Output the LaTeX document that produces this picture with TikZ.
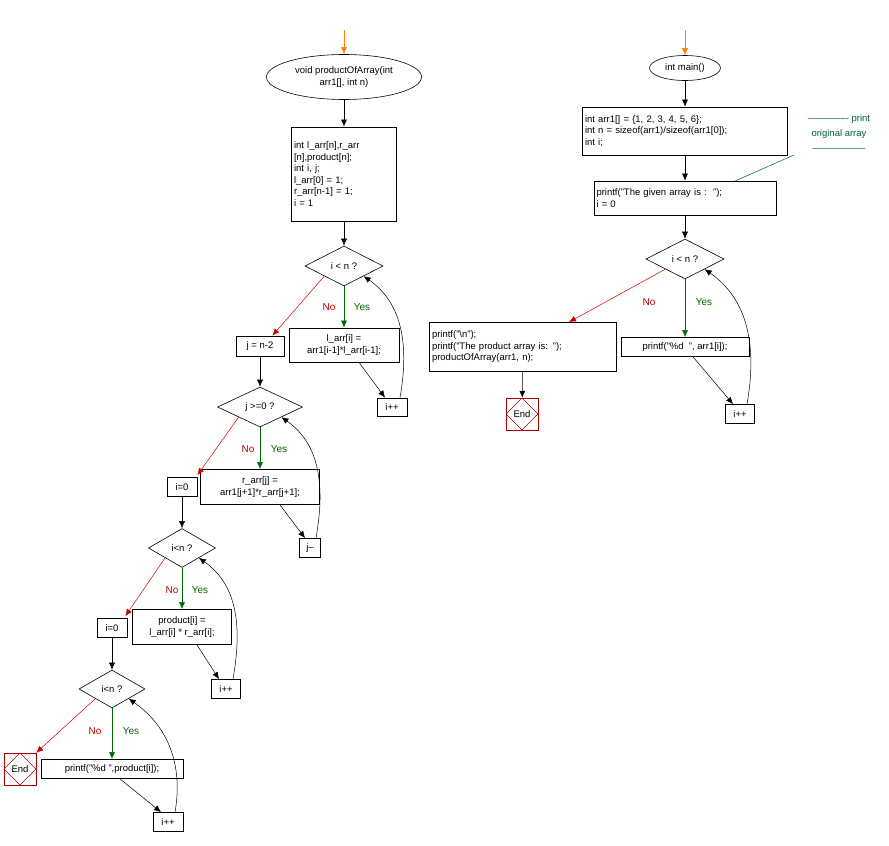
\documentclass[tikz,border=0pt]{standalone}
\usepackage{fontspec}
\setmainfont{Liberation Sans}
\usetikzlibrary{shapes.geometric,calc,arrows.meta}

\tikzset{
  box/.style={draw, rectangle, inner sep=2.5pt, line width=0.8pt},
  dec/.style={draw, diamond, minimum width=78pt, minimum height=40pt, inner sep=0pt, line width=0.6pt},
  term/.style={draw, ellipse, inner sep=1pt, line width=0.6pt},
  stop/.style={draw=red!65!black, rectangle, minimum width=32pt, minimum height=32pt, inner sep=0pt,
    path picture={\draw[red!65!black] (path picture bounding box.north) -- (path picture bounding box.east)
      -- (path picture bounding box.south) -- (path picture bounding box.west) -- cycle;}},
  flow/.style={-{Latex[length=7pt,width=6pt]}, line width=0.5pt},
  yes/.style={flow, green!40!black},
  no/.style={flow, red!80!black},
  start/.style={flow, orange},
  lab/.style={font=\fontsize{10}{12}\selectfont},
}

\begin{document}
\begin{tikzpicture}[x=1pt,y=-1pt,font=\fontsize{9.5}{11.5}\selectfont]
\useasboundingbox (0,0) rectangle (889,846);

% left chart
\coordinate (s1) at (344,30);
\node[term, minimum width=155pt, minimum height=45pt, align=center] (fn) at (344,77) {void productOfArray(int\\arr1[], int n)};
\node[box, text width=100pt, minimum height=94pt, align=left] (init) at (344,174)
  {int l\_arr[n],r\_arr\\{}[n],product[n];\\int i, j;\\l\_arr[0] = 1;\\r\_arr[n-1] = 1;\\i = 1};
\node[dec] (d1) at (344,266) {i < n ?};
\node[box, minimum width=48pt, minimum height=20pt] (jn) at (260,346) {j = n-2};
\node[box, minimum width=110pt, minimum height=34pt, align=center] (la) at (344,345) {l\_arr[i] =\\arr1[i-1]*l\_arr[i-1];};
\node[box, minimum width=30pt, minimum height=18pt] (ip1) at (392,407) {i++};

\node[dec, minimum width=85pt] (d2) at (260,407) {j >=0 ?};
\node[box, minimum width=30pt, minimum height=19pt] (iz1) at (182,487) {i=0};
\node[box, minimum width=119pt, minimum height=35pt, align=center] (ra) at (260,487) {r\_arr[j] =\\arr1[j+1]*r\_arr[j+1];};
\node[box, minimum width=21pt, minimum height=19pt] (jm) at (310,548) {j--};

\node[dec, minimum width=67pt, minimum height=39pt] (d3) at (182,548) {i<n ?};
\node[box, minimum width=30pt, minimum height=19pt] (iz2) at (112,628) {i=0};
\node[box, minimum width=99pt, minimum height=35pt, align=center] (pr) at (182,627) {product[i] =\\l\_arr[i] * r\_arr[i];};
\node[box, minimum width=29pt, minimum height=19pt] (ip2) at (226,689) {i++};

\node[dec, minimum width=66pt, minimum height=38pt] (d4) at (112,689) {i<n ?};
\node[stop] (end1) at (20,769) {End};
\node[box, minimum width=142pt, minimum height=19pt] (pp) at (112,769) {printf("\%d ",product[i]);};
\node[box, minimum width=30pt, minimum height=19pt] (ip3) at (168,822) {i++};

\draw[start] (s1) -- (fn);
\draw[flow] (fn) -- (init);
\draw[flow] (init) -- (d1);
\draw[yes] (d1) -- (la);
\draw[no] (d1.south west) -- ($(jn.north east)+(-12,0)$);
\draw[flow] ($(la.south)+(15,0)$) -- ($(ip1.north)+(-7,0)$);
\draw[flow] ($(ip1.north)+(8,0)$) to[out=80,in=-35] (d1.south east);
\draw[flow] (jn) -- (d2);
\draw[yes] (d2) -- (ra);
\draw[no] (d2.south west) -- ($(iz1.north east)+(0,-2)$);
\draw[flow] ($(ra.south)+(20,0)$) -- ($(jm.north)+(-5,0)$);
\draw[flow] ($(jm.north)+(6,0)$) to[out=80,in=-35] (d2.south east);
\draw[flow] (iz1) -- (d3);
\draw[yes] (d3) -- (pr);
\draw[no] (d3.south west) -- ($(iz2.north east)+(-2,-2)$);
\draw[flow] ($(pr.south)+(15,0)$) -- ($(ip2.north)+(-7,0)$);
\draw[flow] ($(ip2.north)+(7,0)$) to[out=80,in=-35] (d3.south east);
\draw[flow] (iz2) -- (d4);
\draw[yes] (d4) -- (pp);
\draw[no] (d4.south west) -- (end1.north east);
\draw[flow] ($(pp.south)+(8,0)$) -- ($(ip3.north)+(-7,0)$);
\draw[flow] ($(ip3.north)+(7,0)$) to[out=80,in=-35] (d4.south east);

\node[lab, text=red!80!black] (n1) at (329,307) {No};
\node[lab, text=green!40!black] (y1) at (362,307) {Yes};
\node[lab, text=red!80!black] (n2) at (248,449) {No};
\node[lab, text=green!40!black] (y2) at (279,449) {Yes};
\node[lab, text=red!80!black] (n3) at (172,590) {No};
\node[lab, text=green!40!black] (y3) at (200,590) {Yes};
\node[lab, text=red!80!black] (n4) at (95,731) {No};
\node[lab, text=green!40!black] (y4) at (131,731) {Yes};

% right chart
\coordinate (s2) at (685,30);
\node[term, minimum width=71pt, minimum height=25pt] (mn) at (685,68) {int main()};
\node[box, text width=200pt, minimum height=48pt, align=left] (decl) at (685,131)
  {int arr1[] = \{1, 2, 3, 4, 5, 6\};\\int n = sizeof(arr1)/sizeof(arr1[0]);\\int i;};
\node[box, text width=177pt, minimum height=34pt, align=left] (gv) at (685,198)
  {printf("The given array is :~~");\\i = 0};
\node[dec] (d5) at (685,259) {i < n ?};
\node[box, text width=182pt, minimum height=49pt, align=left] (fin) at (523,347)
  {printf("\textbackslash n");\\printf("The product array is: ");\\productOfArray(arr1, n);};
\node[box, minimum width=128pt, minimum height=19pt] (pa) at (685,347) {printf("\%d~~", arr1[i]);};
\node[box, minimum width=29pt, minimum height=19pt] (ip4) at (740,414) {i++};
\node[stop] (end2) at (522,414) {End};

\node[text=teal!80!green!60!black, align=center, font=\fontsize{9.5}{15}\selectfont] (cm) at (839,133)
  {------------- print\\original array\\-----------------};
\coordinate (cmf) at (794,155);
\draw[teal!80!green!60!black, line width=0.5pt] (cmf) -- (735,181);

\draw[start] (s2) -- (mn);
\draw[flow] (mn) -- (decl);
\draw[flow] (decl) -- (gv);
\draw[flow] (gv) -- (d5);
\draw[yes] (d5) -- (pa);
\draw[no] (d5.south west) -- ($(fin.north)+(46,0)$);
\draw[flow] ($(pa.south)+(8,0)$) -- ($(ip4.north)+(-7,0)$);
\draw[flow] ($(ip4.north)+(7,0)$) to[out=80,in=-35] (d5.south east);
\draw[flow] (fin) -- (end2);

\node[lab, text=red!80!black] (n5) at (649,302) {No};
\node[lab, text=green!40!black] (y5) at (704,302) {Yes};
\end{tikzpicture}
\end{document}
